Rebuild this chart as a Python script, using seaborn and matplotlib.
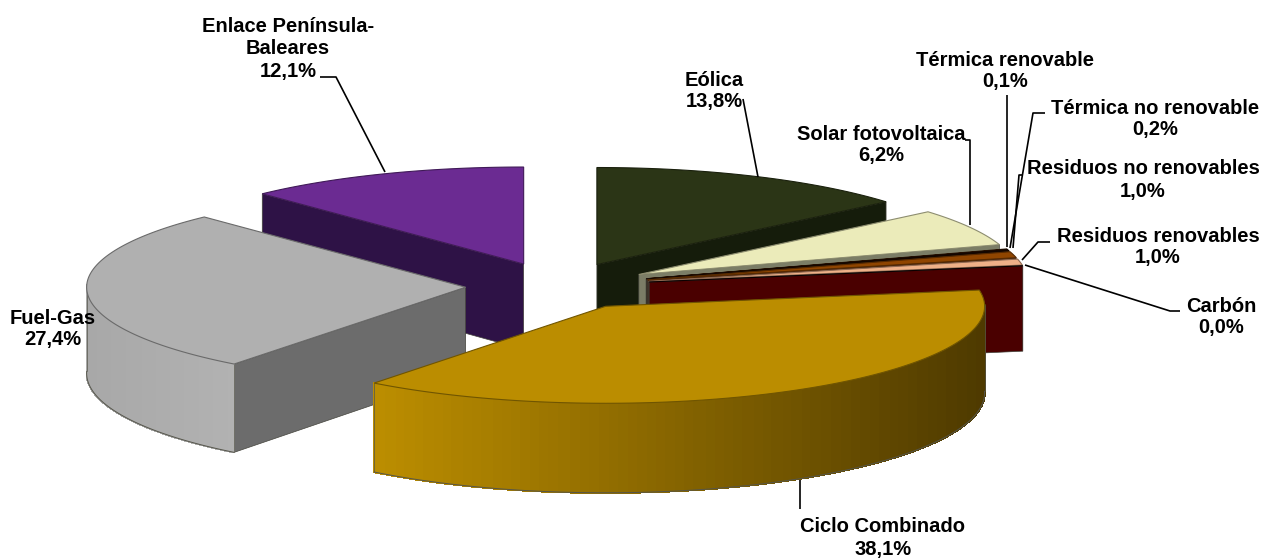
import numpy as np
import matplotlib
matplotlib.use("Agg")
import matplotlib.pyplot as plt
from matplotlib.collections import PolyCollection
from matplotlib.colors import to_rgb
import seaborn as sns

# Data, clockwise from 12 o'clock
labels = ["Eólica", "Solar fotovoltaica", "Térmica renovable", "Térmica no renovable",
          "Residuos no renovables", "Residuos renovables", "Carbón",
          "Ciclo Combinado", "Fuel-Gas", "Enlace Península-\nBaleares"]
values = [13.8, 6.2, 0.1, 0.2, 1.0, 1.0, 0.0, 38.1, 27.4, 12.1]

# Styles per slice
top_colors = ["#2b3516", "#ebebba", "#3d1a00", "#200a00", "#8f4500", "#eeb088", "#120000",
              "#bb8d00", "#b0b0b0", "#6b2b92"]
wall_colors = ["#151c0b", "#7b7d66", "#241000", "#1a0d00", "#3a1500", "#111100", "#4a0000",
               "#4d3900", "#6c6c6c", "#2e1246"]
side_ramps = [("#151c0b", "#151c0b"), ("#8a8c70", "#8a8c70"), ("#241000", "#241000"),
              ("#1a0d00", "#1a0d00"), ("#3a1500", "#3a1500"), ("#111100", "#111100"),
              ("#4a0000", "#4a0000"), ("#bb8d00", "#4d3900"), ("#a8a8a8", "#b2b2b2"),
              ("#2e1246", "#2e1246")]
paint_order = [9, 0, 1, 2, 3, 4, 5, 6, 8, 7]

# Projection of the tilted disc
CX, CY, RX, RY = 558, 286, 379, 97
EXPLODE, THICK = 0.244, 86

label_pos = {0: (714, 91), 1: (881, 145), 2: (1005, 71), 3: (1155, 119), 4: (1143, 180),
             5: (1158, 247), 6: (1221, 317), 7: (883, 538), 8: (53, 329), 9: (288, 49)}
leaders = {0: [(743, 99), (758, 177)],
           1: [(965, 140), (970, 140), (970, 225)],
           2: [(1007, 95), (1007, 247)],
           3: [(1045, 113), (1033, 113), (1010, 248)],
           4: [(1022, 175), (1019, 175), (1013, 248)],
           5: [(1050, 242), (1038, 242), (1022, 260)],
           6: [(1025, 265), (1170, 311), (1180, 311)],
           7: [(800, 480), (800, 509)],
           9: [(320, 77), (336, 77), (385, 172)]}

sns.set_theme(style="white")
plt.rcParams["font.family"] = ["Liberation Sans", "DejaVu Sans"]

fig = plt.figure(figsize=(12.75, 5.58), dpi=100)
ax = fig.add_axes([0, 0, 1, 1])
ax.set_xlim(0, 1275)
ax.set_ylim(558, 0)
ax.axis("off")

fractions = np.array(values) / sum(values)
ends = np.pi / 2 - 2 * np.pi * np.cumsum(fractions)
starts = np.concatenate([[np.pi / 2], ends[:-1]])


def depth(y):
    return THICK + 0.03 * (y - CY)


for i in paint_order:
    t0, t1 = starts[i], ends[i]
    mid = (t0 + t1) / 2
    ax0 = CX + EXPLODE * RX * np.cos(mid)
    ay0 = CY - EXPLODE * RY * np.sin(mid)
    n = max(2, int(abs(t1 - t0) * 120))
    t = np.linspace(t0, t1, n)
    xs = ax0 + RX * np.cos(t)
    ys = ay0 - RY * np.sin(t)

    # radial walls that face the viewer
    if np.cos(t0) < 0:
        ax.fill([ax0, xs[0], xs[0], ax0], [ay0, ys[0], ys[0] + depth(ys[0]), ay0 + depth(ay0)],
                facecolor=wall_colors[i], edgecolor="#44443c", lw=0.5, zorder=2)
    if np.cos(t1) > 0:
        ax.fill([ax0, xs[-1], xs[-1], ax0], [ay0, ys[-1], ys[-1] + depth(ys[-1]), ay0 + depth(ay0)],
                facecolor=wall_colors[i], edgecolor="#44443c", lw=0.5, zorder=2)

    # shaded outer side as many thin facets, only where it faces the viewer
    front = np.sin(t) <= 0.02
    if front.sum() >= 2:
        fx, fy = xs[front], ys[front]
        ramp = sns.blend_palette(list(side_ramps[i]), 64)
        lo, hi = fx.min(), fx.max()
        quads, cols = [], []
        for k in range(len(fx) - 1):
            quads.append([(fx[k], fy[k]), (fx[k + 1], fy[k + 1]),
                          (fx[k + 1], fy[k + 1] + depth(fy[k + 1])), (fx[k], fy[k] + depth(fy[k]))])
            f = ((fx[k] + fx[k + 1]) / 2 - lo) / max(hi - lo, 1e-6)
            cols.append(ramp[int(f * 63)])
        ax.add_collection(PolyCollection(quads, facecolors=cols, edgecolors=cols, linewidths=0.9,
                                         antialiased=False, zorder=2))
        ax.plot(fx, fy + depth(fy), color="#55554a", lw=0.7, zorder=2)
        for e in (0, -1):
            ax.plot([fx[e], fx[e]], [fy[e], fy[e] + depth(fy[e])], color="#55554a", lw=0.5, zorder=2)

    # top face
    edge = tuple(0.6 * c for c in to_rgb(top_colors[i]))
    ax.fill(np.r_[ax0, xs], np.r_[ay0, ys], facecolor=top_colors[i], edgecolor=edge, lw=0.8, zorder=2)

for k, pts in leaders.items():
    px, py = zip(*pts)
    ax.plot(px, py, color="black", lw=1.2, zorder=3, solid_capstyle="butt")

for i, (name, val) in enumerate(zip(labels, values)):
    x, y = label_pos[i]
    pct = f"{val:.1f}%".replace(".", ",")
    ax.text(x, y, f"{name}\n{pct}", ha="center", va="center", fontsize=14.5,
            fontweight="bold", color="black", linespacing=1.2, zorder=4)

fig.savefig("out.png", dpi=100, facecolor="white")
